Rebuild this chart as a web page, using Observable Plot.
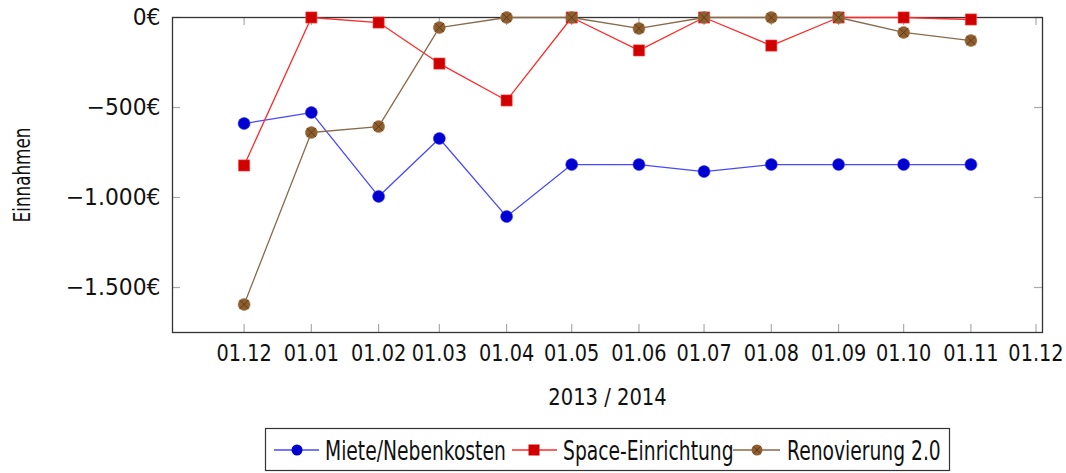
<!DOCTYPE html>
<html>
<head>
<meta charset="utf-8">
<script src="https://cdn.jsdelivr.net/npm/d3@7"></script>
<script src="https://cdn.jsdelivr.net/npm/@observablehq/plot@0.6"></script>
<style>
  html, body { margin: 0; padding: 0; background: #fff; }
  body { width: 1066px; height: 473px; position: relative; overflow: hidden;
         font-family: "DejaVu Sans", sans-serif; }
  #chart { position: absolute; left: 0; top: 0; }
  #legend { position: absolute; left: 0; top: 0; }
</style>
</head>
<body>
<div id="chart"></div>
<svg id="legend" width="1066" height="473" style="pointer-events:none"></svg>
<script>
const months = ["2013-12-01","2014-01-01","2014-02-01","2014-03-01","2014-04-01","2014-05-01",
                "2014-06-01","2014-07-01","2014-08-01","2014-09-01","2014-10-01","2014-11-01"];
const tickMonths = [...months, "2014-12-01"];
const seriesNames = ["Miete/Nebenkosten", "Space-Einrichtung", "Renovierung 2.0"];
const miete = [-589, -528, -994, -672, -1106, -817, -817, -856, -817, -817, -817, -817];
const space = [-822, 0, -28, -256, -461, 0, -183, 0, -156, 0, 0, -11];
const renov = [-1594, -639, -606, -56, 0, 0, -61, 0, 0, 0, -83, -128];
const yTicks = [0, -500, -1000, -1500];
const xTitle = "2013 / 2014";
const yTitle = "Einnahmen";

const parse = d3.utcParse("%Y-%m-%d");
const mk = (vals, name) => vals.map((v, i) => ({date: parse(months[i]), value: v, series: name}));
const dMiete = mk(miete, seriesNames[0]);
const dSpace = mk(space, seriesNames[1]);
const dRenov = mk(renov, seriesNames[2]);
const xTicks = tickMonths.map(parse);

const locale = d3.formatLocale({decimal: ",", thousands: ".", grouping: [3], currency: ["", "€"], minus: "\u2212"});
const yFmt = v => locale.format("$,")(v);
const xFmt = d3.utcFormat("%d.%m");

const W = 1066, H = 425, mL = 172, mR = 24, mT = 17, mB = 93;
const pw = W - mL - mR, ph = H - mT - mB;
const tickLen = 8;
const font = `"DejaVu Sans", sans-serif`;

const colors = {
  blueLine: "#4848ff", blueMark: "#0000d0",
  redLine: "#ff2a2a", redMark: "#d00000",
  brownLine: "#8a6a4a", brownMark: "#8f5e2e", brownCross: "#5a3814"
};

const plot = Plot.plot({
  width: W, height: H,
  marginLeft: mL, marginRight: mR, marginTop: mT, marginBottom: mB,
  style: {fontFamily: font, fontSize: "20px", color: "#111", background: "#fff"},
  x: {type: "utc", domain: [parse("2013-10-29"), parse("2014-12-04")]},
  y: {domain: [-1750, 0]},
  marks: [
    // inner ticks (mirrored)
    Plot.tickY(yTicks, {y: d => d, stroke: "#aaa", strokeWidth: 1.2, insetRight: pw - tickLen}),
    Plot.tickY(yTicks, {y: d => d, stroke: "#aaa", strokeWidth: 1.2, insetLeft: pw - tickLen}),
    Plot.tickX(xTicks, {x: d => d, stroke: "#aaa", strokeWidth: 1.2, insetTop: ph - tickLen}),
    Plot.tickX(xTicks, {x: d => d, stroke: "#aaa", strokeWidth: 1.2, insetBottom: ph - tickLen}),
    Plot.frame({stroke: "#333", strokeWidth: 1.3}),
    Plot.axisY(yTicks, {tickSize: 0, tickPadding: 12, tickFormat: yFmt, label: null, fontSize: 23}),
    Plot.axisX(xTicks, {tickSize: 0, tickPadding: 12, tickFormat: xFmt, label: null, fontSize: 23}),
    Plot.text([xTitle], {frameAnchor: "bottom", dy: 65, text: d => d, fontSize: 23, lineAnchor: "middle", textAnchor: "middle"}),
    Plot.text([yTitle], {frameAnchor: "left", dx: -150, rotate: -90, text: d => d, fontSize: 23, lineAnchor: "middle", textAnchor: "middle"}),
    // lines
    Plot.line(dMiete, {x: "date", y: "value", stroke: colors.blueLine, strokeWidth: 1.3}),
    Plot.line(dSpace, {x: "date", y: "value", stroke: colors.redLine, strokeWidth: 1.3}),
    Plot.line(dRenov, {x: "date", y: "value", stroke: colors.brownLine, strokeWidth: 1.3}),
    // markers
    Plot.dot(dMiete, {x: "date", y: "value", r: 6, fill: colors.blueMark, stroke: "#4040ff", strokeWidth: 0.6}),
    Plot.dot(dSpace, {x: "date", y: "value", symbol: "square", r: 6.3, fill: colors.redMark, stroke: "#ff4040", strokeWidth: 0.6}),
    Plot.dot(dRenov, {x: "date", y: "value", r: 6, fill: colors.brownMark, stroke: "#a07a55", strokeWidth: 0.6}),
    Plot.dot(dRenov, {x: "date", y: "value", symbol: "times", r: 4.2, stroke: colors.brownCross, strokeWidth: 0.9})
  ]
});
document.getElementById("chart").appendChild(plot);

// horizontally condense text to mimic the narrow typeface of the original
function squeezeEl(el, sx) {
  const t = el.getAttribute("transform") || "";
  const xa = el.getAttribute("x");
  let x = 0;
  if (xa != null && /^-?[\d.]+$/.test(xa.trim())) { x = +xa; el.removeAttribute("x"); }
  el.setAttribute("transform", `${t} translate(${x},0) scale(${sx},1)`);
}
const xTickTexts = new Set(xTicks.map(xFmt));
const yTickTexts = new Set(yTicks.map(yFmt));
plot.querySelectorAll("text").forEach(el => {
  const s = el.textContent;
  if (s === yTitle) squeezeEl(el, 0.73);
  else if (s === xTitle) squeezeEl(el, 0.85);
  else if (xTickTexts.has(s)) squeezeEl(el, 0.84);
  else if (yTickTexts.has(s)) squeezeEl(el, 0.95);
});

// legend
const legendSpec = [
  {name: seriesNames[0], line: colors.blueLine, mark: "circle", fill: colors.blueMark, x1: 274, x2: 319, cx: 297, tx: 325},
  {name: seriesNames[1], line: colors.redLine, mark: "square", fill: colors.redMark, x1: 512, x2: 557, cx: 534, tx: 563},
  {name: seriesNames[2], line: colors.brownLine, mark: "otimes", fill: colors.brownMark, x1: 733, x2: 780, cx: 757, tx: 787}
];
const lg = d3.select("#legend");
lg.append("rect").attr("x", 265.5).attr("y", 428.5).attr("width", 684).attr("height", 42)
  .attr("fill", "#fff").attr("stroke", "#333").attr("stroke-width", 1.2);
const cy = 450;
for (const s of legendSpec) {
  lg.append("line").attr("x1", s.x1).attr("x2", s.x2).attr("y1", cy).attr("y2", cy)
    .attr("stroke", s.line).attr("stroke-width", 1.5);
  if (s.mark === "circle") lg.append("circle").attr("cx", s.cx).attr("cy", cy).attr("r", 5.5).attr("fill", s.fill);
  else if (s.mark === "square") lg.append("rect").attr("x", s.cx - 5.5).attr("y", cy - 5.5).attr("width", 11).attr("height", 11).attr("fill", s.fill);
  else {
    lg.append("circle").attr("cx", s.cx).attr("cy", cy).attr("r", 5.5).attr("fill", s.fill);
    lg.append("path").attr("d", `M${s.cx-3.5},${cy-3.5}L${s.cx+3.5},${cy+3.5}M${s.cx+3.5},${cy-3.5}L${s.cx-3.5},${cy+3.5}`)
      .attr("stroke", colors.brownCross).attr("stroke-width", 0.9);
  }
  lg.append("text").attr("transform", `translate(${s.tx},460) scale(0.72,1)`)
    .attr("font-family", font).attr("font-size", 26).attr("fill", "#111").text(s.name);
}
</script>
</body>
</html>
